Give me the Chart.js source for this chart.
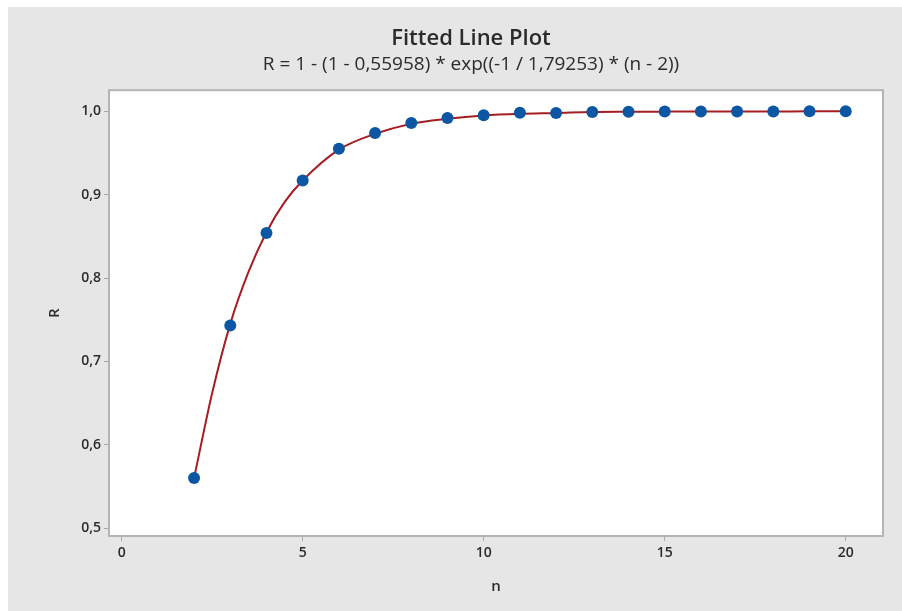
<!DOCTYPE html>
<html lang="en">
<head>
  <meta charset="UTF-8">
  <title>Fitted Line Plot</title>
  <script src="https://cdn.jsdelivr.net/npm/chart.js"></script>
  <style>
    body { margin: 0; background: #fff; }
    #frame { position: absolute; left: 8px; top: 7px; width: 894px; height: 604px; background: #e6e6e6; }
    #chart { position: absolute; left: 32px; top: 0; }
  </style>
</head>
<body>
  <div id="frame">
    <canvas id="chart" width="862" height="604"></canvas>
  </div>

  <script>
    const nValues = [2, 3, 4, 5, 6, 7, 8, 9, 10, 11, 12, 13, 14, 15, 16, 17, 18, 19, 20];
    const rValues = [0.560, 0.743, 0.854, 0.917, 0.955, 0.974, 0.986, 0.992, 0.9952, 0.9984, 0.998, 0.9992,
                     0.9995, 0.9997, 0.9998, 0.9999, 0.9999, 1.0, 1.0];
    // fitted curve
    const fitN = [2, 2.5, 3, 3.5, 4, 4.5, 5, 6, 7, 8, 9, 10, 11, 12, 13, 14, 15, 16, 17, 18, 19, 20];
    const fitR = [0.560, 0.662, 0.745, 0.807, 0.855, 0.891, 0.917, 0.954, 0.973, 0.985, 0.991, 0.995, 0.997,
                  0.998, 0.9992, 0.9995, 0.9997, 0.9998, 0.9999, 0.9999, 1.0, 1.0];

    const xTicks = [0, 5, 10, 15, 20];
    const xTickLabels = ['0', '5', '10', '15', '20'];
    const yTicks = [0.5, 0.6, 0.7, 0.8, 0.9, 1.0];
    const yTickLabels = ['0,5', '0,6', '0,7', '0,8', '0,9', '1,0'];

    const FONT = "'Open Sans', sans-serif";
    const TEXT = '#2b2b2b';

    const plotBox = {
      id: 'plotBox',
      beforeDraw(chart) {
        const a = chart.chartArea, ctx = chart.ctx;
        ctx.save();
        ctx.fillStyle = '#fff';
        ctx.fillRect(a.left, a.top, a.right - a.left, a.bottom - a.top);
        ctx.restore();
      },
      beforeDatasetsDraw(chart) {
        const a = chart.chartArea, ctx = chart.ctx;
        ctx.save();
        ctx.strokeStyle = '#b4b4b4';
        ctx.lineWidth = 2;
        ctx.strokeRect(a.left, a.top, a.right - a.left, a.bottom - a.top);
        ctx.restore();
      }
    };

    const ctx = document.getElementById('chart').getContext('2d');
    new Chart(ctx, {
      data: {
        datasets: [{
          type: 'scatter',
          label: 'R',
          data: nValues.map((n, i) => ({ x: n, y: rValues[i] })),
          backgroundColor: '#0b57a4',
          borderWidth: 0,
          pointRadius: 6,
          order: 1
        }, {
          type: 'line',
          label: 'Fit',
          data: fitN.map((n, i) => ({ x: n, y: fitR[i] })),
          borderColor: '#a51e22',
          borderWidth: 2,
          pointRadius: 0,
          fill: false,
          cubicInterpolationMode: 'monotone',
          order: 2
        }]
      },
      options: {
        responsive: false,
        devicePixelRatio: 1,
        animation: false,
        layout: { padding: 0 },
        plugins: {
          legend: { display: false },
          tooltip: { enabled: false },
          title: {
            display: true,
            text: 'Fitted Line Plot',
            color: TEXT,
            font: { family: FONT, size: 22, weight: '600', lineHeight: 1.2 },
            padding: { top: 19, bottom: 0 }
          },
          subtitle: {
            display: true,
            text: 'R = 1 - (1 - 0,55958) * exp((-1 / 1,79253) * (n - 2))',
            color: TEXT,
            font: { family: FONT, size: 19, lineHeight: 1.2 },
            padding: { top: 1, bottom: 14 }
          }
        },
        scales: {
          x: {
            type: 'linear',
            position: 'bottom',
            min: -0.35,
            max: 21.03,
            afterBuildTicks: s => { s.ticks = xTicks.map(v => ({ value: v })); },
            afterFit: s => { s.height = 75; },
            ticks: {
              callback: v => xTickLabels[xTicks.indexOf(v)],
              color: TEXT,
              font: { family: FONT, size: 14, weight: '600' },
              padding: 4,
              maxRotation: 0
            },
            grid: { drawOnChartArea: false, tickLength: 5, color: '#a8a8a8' },
            border: { display: false },
            title: {
              display: true,
              text: 'n',
              color: TEXT,
              font: { family: FONT, size: 15, weight: '600' },
              padding: { top: 0, bottom: 15 }
            }
          },
          y: {
            type: 'linear',
            min: 0.4904,
            max: 1.0254,
            afterBuildTicks: s => { s.ticks = yTicks.map(v => ({ value: v })); },
            afterFit: s => { s.width = 69; },
            ticks: {
              callback: v => yTickLabels[yTicks.indexOf(v)],
              color: TEXT,
              font: { family: FONT, size: 14, weight: '600' },
              padding: 3
            },
            grid: { drawOnChartArea: false, tickLength: 5, color: '#a8a8a8' },
            border: { display: false },
            title: {
              display: true,
              text: 'R',
              color: TEXT,
              font: { family: FONT, size: 15, weight: '600' },
              padding: { top: 6, bottom: 0 }
            }
          },
          // empty right-hand strip so the titles stay centred on the whole frame
          yRight: {
            type: 'linear',
            position: 'right',
            min: 0.4904,
            max: 1.0254,
            afterFit: s => { s.width = 19; },
            ticks: { display: false },
            grid: { display: false },
            border: { display: false }
          }
        }
      },
      plugins: [plotBox]
    });
  </script>
</body>
</html>
